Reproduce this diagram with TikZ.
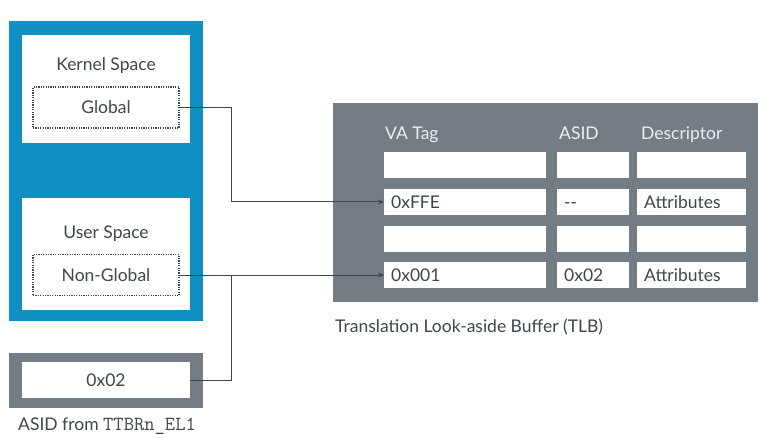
\documentclass[tikz,border=0pt]{standalone}
\usepackage{fontspec}
\setmainfont{Lato}
\usetikzlibrary{positioning,arrows.meta}

\definecolor{armblue}{RGB}{18,143,194}
\definecolor{armgray}{RGB}{117,125,132}
\definecolor{darktext}{RGB}{62,70,78}
\definecolor{headtext}{RGB}{236,239,241}

\tikzset{
  box/.style={anchor=north west, inner sep=0pt, outer sep=0pt},
  cell/.style={box, fill=white, minimum height=26pt},
  celltext/.style={anchor=base west, inner sep=0pt, xshift=7pt, yshift=-6.5pt, text=darktext},
  headlabel/.style={anchor=base west, inner sep=0pt, text=headtext},
  line/.style={draw=darktext, line width=1pt},
  dotbox/.style={box, draw=darktext, line width=1.2pt, dash pattern=on 1.2pt off 1.2pt,
    minimum width=146pt, minimum height=41pt, text=darktext}
}

\begin{document}
\begin{tikzpicture}[x=1pt, y=-1pt, font=\fontsize{17.5}{21}\selectfont]
  \useasboundingbox (0,0) rectangle (778,438);

  % address space
  \node (M) [box, fill=armblue, minimum width=194pt, minimum height=300pt] at (9,21) {};
  \node (K) [box, fill=white, minimum width=168pt, minimum height=108pt] at (22,35) {};
  \node (U) [box, fill=white, minimum width=168pt, minimum height=112pt] at (22,198) {};
  \node [text=darktext] at (106,66) {Kernel Space};
  \node [text=darktext] at (106,234) {User Space};
  \node (KG) [dotbox] at (33,87) {};
  \node (UG) [dotbox] at (33,254.5) {};
  \node at (KG.center) [text=darktext] {Global};
  \node at (UG.center) [text=darktext] {Non-Global};

  % ASID register
  \node (R) [box, fill=armgray, minimum width=194pt, minimum height=55pt] at (9,353) {};
  \node (X) [box, fill=white, minimum width=168pt, minimum height=36pt] at (22,362) {};
  \node at (X.center) [text=darktext] {0x02};
  \node [anchor=west, inner sep=0pt, text=darktext] at (18,426)
    {ASID from {\fontsize{20}{21}\ttfamily TTBRn\_EL1}};

  % TLB
  \node (T) [box, fill=armgray, minimum width=425pt, minimum height=199pt] at (333,103) {};
  \node [headlabel] at (385,140) {VA Tag};
  \node [headlabel] at (559,140) {ASID};
  \node [headlabel] at (641,140) {Descriptor};
  \foreach \r/\y in {1/152,2/189,3/226,4/262} {
    \node (V\r) [cell, minimum width=162pt] at (384,\y) {};
    \node (A\r) [cell, minimum width=72pt] at (557,\y) {};
    \node (D\r) [cell, minimum width=109pt] at (637,\y) {};
  }
  \node [celltext] at (V2.west) {0xFFE};
  \node [celltext] at (A2.west) {-{}-};
  \node [celltext] at (D2.west) {Attributes};
  \node [celltext] at (V4.west) {0x001};
  \node [celltext] at (A4.west) {0x02};
  \node [celltext] at (D4.west) {Attributes};
  \node [anchor=west, inner sep=0pt, text=darktext] at (335,327) {Translation Look-aside Buffer (TLB)};

  \coordinate (J) at (231,275);

  \draw [line, -{Stealth[length=6pt, width=5pt]}] (KG.east) -- (KG.east -| J) |- (V2.west);
  \draw [line, -{Stealth[length=6pt, width=5pt]}] (UG.east) -- (V4.west);
  \draw [line] (X.east) -| (J);

\end{tikzpicture}
\end{document}
